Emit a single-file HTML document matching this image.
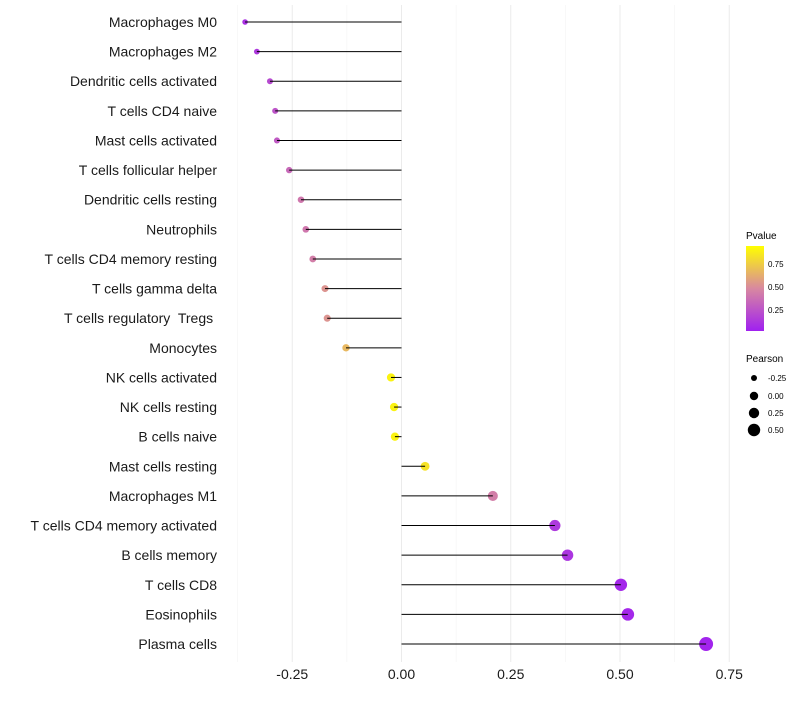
<!DOCTYPE html>
<html><head><meta charset="utf-8"><style>
body{margin:0;background:#fff;}
svg text{font-family:"Liberation Sans",sans-serif;white-space:pre;}
</style></head><body>
<svg id="chart" width="800" height="700">
<defs><linearGradient id="pg" x1="0" y1="1" x2="0" y2="0">
<stop offset="0" stop-color="#A020F0"/><stop offset="0.5" stop-color="#D888A0"/><stop offset="1" stop-color="#FFFF00"/></linearGradient></defs>
<g id="grid"></g>
<g id="marks"></g>
<g id="yaxis"></g>
<g id="xaxis"></g>
<g>
<text x="746" y="239" font-size="10">Pvalue</text>
<rect x="746" y="246" width="18" height="85" fill="url(#pg)"/>
<text x="768" y="267" font-size="8">0.75</text>
<text x="768" y="290" font-size="8">0.50</text>
<text x="768" y="313" font-size="8">0.25</text>
</g>
<g>
<text x="746" y="362" font-size="10">Pearson</text>
<circle cx="754" cy="378" r="3"/>
<circle cx="754" cy="396" r="4.2"/>
<circle cx="754" cy="413" r="5.2"/>
<circle cx="754" cy="430" r="6.2"/>
<text x="768" y="381" font-size="8">-0.25</text>
<text x="768" y="399" font-size="8">0.00</text>
<text x="768" y="416" font-size="8">0.25</text>
<text x="768" y="433" font-size="8">0.50</text>
</g>
</svg>
<script>
const categories=["Macrophages M0","Macrophages M2","Dendritic cells activated","T cells CD4 naive","Mast cells activated","T cells follicular helper","Dendritic cells resting","Neutrophils","T cells CD4 memory resting","T cells gamma delta","T cells regulatory  Tregs ","Monocytes","NK cells activated","NK cells resting","B cells naive","Mast cells resting","Macrophages M1","T cells CD4 memory activated","B cells memory","T cells CD8","Eosinophils","Plasma cells"];
const pearson=[-0.358,-0.331,-0.301,-0.289,-0.285,-0.257,-0.230,-0.219,-0.203,-0.175,-0.170,-0.127,-0.024,-0.017,-0.015,0.054,0.209,0.351,0.380,0.502,0.518,0.697];
const pvalue=[0.08,0.12,0.2,0.25,0.28,0.35,0.42,0.42,0.45,0.55,0.55,0.7,0.95,0.95,0.95,0.88,0.45,0.12,0.10,0.04,0.04,0.02];
const xTicks=[-0.25,0,0.25,0.5,0.75];
const xTickLabels=["-0.25","0.00","0.25","0.50","0.75"];
const xMinor=[-0.375,-0.125,0.125,0.375,0.625];
const NS="http://www.w3.org/2000/svg";
const x=v=>401.5+v*437;
const y=i=>22+i*29.62;
const rad=v=>4.2+4*v;
function col(p){const s=[[160,32,240],[216,136,160],[255,255,0]];let a,b,t;if(p<0.5){a=s[0];b=s[1];t=p/0.5;}else{a=s[1];b=s[2];t=(p-0.5)/0.5;}
return "rgb("+a.map((c,k)=>Math.round(c+(b[k]-c)*t)).join(",")+")";}
function mk(g,tag,at){const e=document.createElementNS(NS,tag);for(const k in at)e.setAttribute(k,at[k]);document.getElementById(g).appendChild(e);return e;}
xMinor.forEach(v=>{const l=mk("grid","line",{x1:x(v),x2:x(v),y1:5,y2:662,stroke:"#f2f2f2","stroke-width":0.6});

});
xTicks.forEach((v,i)=>{const l=mk("grid","line",{x1:x(v),x2:x(v),y1:5,y2:662,stroke:"#ebebeb","stroke-width":1});


const t=mk("xaxis","text",{x:x(v),y:679,"font-size":14,"text-anchor":"middle",fill:"#1a1a1a"});t.textContent=xTickLabels[i];

});
categories.forEach((c,i)=>{
const t=mk("yaxis","text",{x:217,y:y(i)+5,"font-size":14,"text-anchor":"end",fill:"#1a1a1a"});t.textContent=c;


const p=mk("marks","circle",{cx:x(pearson[i]),cy:y(i),r:rad(pearson[i]),fill:col(pvalue[i])});


const l=mk("marks","line",{x1:x(0),x2:x(pearson[i]),y1:y(i),y2:y(i),stroke:"#000","stroke-width":1});


});
</script>
</body></html>
